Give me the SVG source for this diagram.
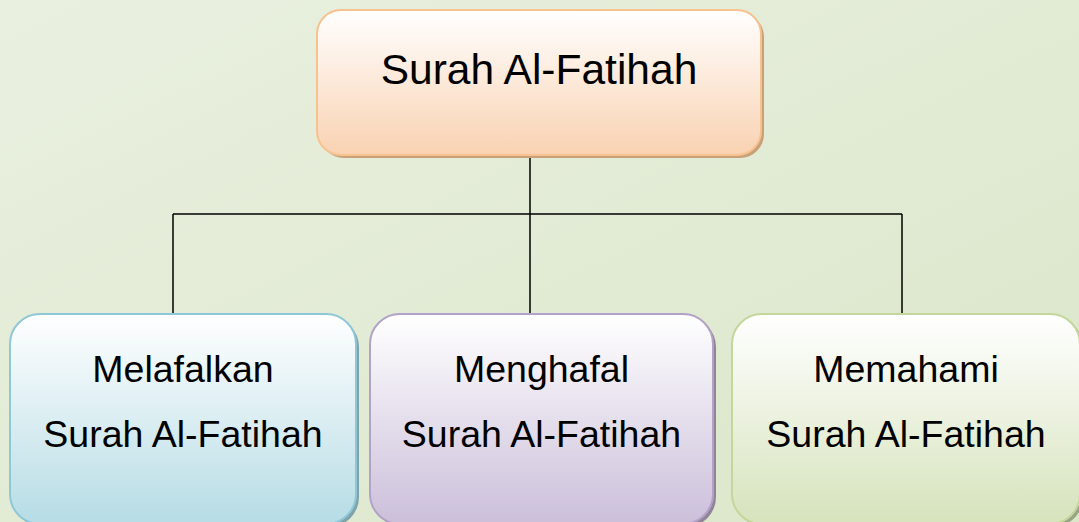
<svg xmlns="http://www.w3.org/2000/svg" width="1079" height="522" viewBox="0 0 1079 522">
<defs>
<linearGradient id="bg" x1="0" y1="0" x2="1" y2="1">
<stop offset="0" stop-color="#e9f0e0"/>
<stop offset="1" stop-color="#dbe6c9"/>
</linearGradient>
<linearGradient id="gOrange" x1="0" y1="0" x2="0" y2="1">
<stop offset="0" stop-color="#ffffff"/>
<stop offset="1" stop-color="#f9d2b2"/>
</linearGradient>
<linearGradient id="gBlue" x1="0" y1="0" x2="0" y2="1">
<stop offset="0" stop-color="#ffffff"/>
<stop offset="1" stop-color="#b6dce5"/>
</linearGradient>
<linearGradient id="gPurple" x1="0" y1="0" x2="0" y2="1">
<stop offset="0" stop-color="#ffffff"/>
<stop offset="1" stop-color="#cbbfda"/>
</linearGradient>
<linearGradient id="gGreen" x1="0" y1="0" x2="0" y2="1">
<stop offset="0" stop-color="#ffffff"/>
<stop offset="1" stop-color="#d6e3bc"/>
</linearGradient>
</defs>
<style>
text { font-family: "Liberation Sans", Arial, sans-serif; fill: #000; text-anchor: middle; }
.big { font-size: 42.5px; }
.lbl { font-size: 37.5px; }
.conn { stroke: #000; stroke-width: 1.5; fill: none; }
</style>
<rect x="0" y="0" width="1079" height="522" fill="url(#bg)"/>
<g id="connectors">
<path class="conn" d="M530 156 V314 M173 214 H902 M173 214 V314 M902 214 V314"/>
</g>
<g id="root">
<rect x="320" y="13" width="444" height="145" rx="24" fill="#c9a078"/>
<rect x="317" y="10" width="444" height="145" rx="24" fill="url(#gOrange)" stroke="#f6c290" stroke-width="2"/>
<text class="big" x="539" y="84">Surah Al-Fatihah</text>
</g>
<g id="melafalkan">
<rect x="13" y="317" width="346" height="210" rx="30" fill="#7fa3ab"/>
<rect x="10" y="314" width="346" height="210" rx="30" fill="url(#gBlue)" stroke="#8ec8d8" stroke-width="2"/>
<text class="lbl" x="183" y="382">Melafalkan</text>
<text class="lbl" x="183" y="447">Surah Al-Fatihah</text>
</g>
<g id="menghafal">
<rect x="373" y="317" width="343" height="210" rx="30" fill="#8f8597"/>
<rect x="370" y="314" width="343" height="210" rx="30" fill="url(#gPurple)" stroke="#b3a2c7" stroke-width="2"/>
<text class="lbl" x="541.5" y="382">Menghafal</text>
<text class="lbl" x="541.5" y="447">Surah Al-Fatihah</text>
</g>
<g id="memahami">
<rect x="735" y="317" width="348" height="210" rx="30" fill="#98a585"/>
<rect x="732" y="314" width="348" height="210" rx="30" fill="url(#gGreen)" stroke="#c3d69b" stroke-width="2"/>
<text class="lbl" x="906" y="382">Memahami</text>
<text class="lbl" x="906" y="447">Surah Al-Fatihah</text>
</g>
</svg>
